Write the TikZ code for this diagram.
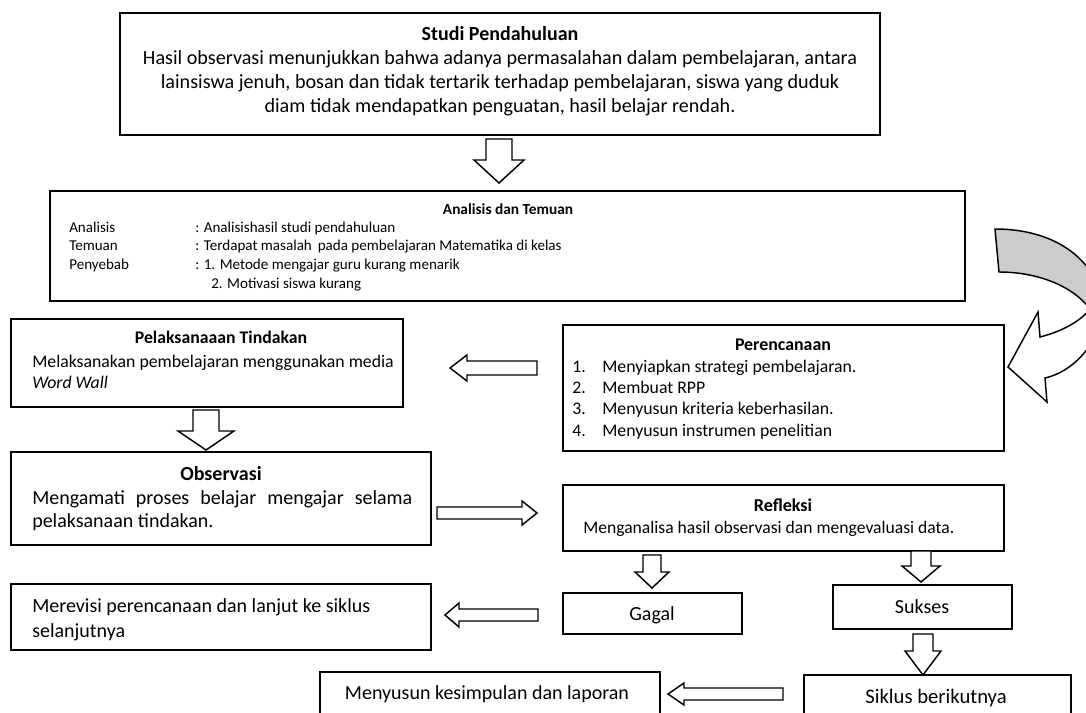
\documentclass[tikz,border=0pt]{standalone}
\usepackage{fontspec}
\setmainfont{Carlito}
\usetikzlibrary{fit}
\newcommand\blkdown[6]{% cx, ytop, yhead, ytip, shaft half, head half
  \draw[blk] ({#1-#5},#2) -- ({#1+#5},#2) -- ({#1+#5},#3) -- ({#1+#6},#3) -- (#1,#4) -- ({#1-#6},#3) -- ({#1-#5},#3) -- cycle;}
\newcommand\blkhoriz[6]{% xtail, xhead, xtip, cy, shaft half, head half
  \draw[blk] (#1,{#4-#5}) -- (#2,{#4-#5}) -- (#2,{#4-#6}) -- (#3,#4) -- (#2,{#4+#6}) -- (#2,{#4+#5}) -- (#1,{#4+#5}) -- cycle;}
\newcommand\curvedarrowpath{(995,229) .. controls (1045,229) and (1085,250) .. (1100,290)
  .. controls (1110,330) and (1080,370) .. (1045,378)
  -- (1047,402) -- (1008,367) -- (1038,312) -- (1040,337)
  .. controls (1060,332) and (1080,322) .. (1090,309)
  .. controls (1072,285) and (1036,272) .. (999,272) -- cycle}
\begin{document}
\begin{tikzpicture}[x=0.75pt,y=-0.75pt,
  box/.style={draw, line width=1.45pt, inner sep=0pt},
  blk/.style={draw, line width=1.1pt, fill=white, line join=miter},
  txt/.style={inner sep=0pt, anchor=base west},
  ctr/.style={inner sep=0pt, anchor=base}]
\clip (0,0) rectangle (1086,713);
\fill[white] (0,0) rectangle (1086,713);

% ---------- Studi Pendahuluan
\node[box, fit={(120,13) (880,135)}] (studi) {};
\node[ctr, font=\fontsize{15}{18}\selectfont\bfseries] (studiT) at (500,41) {Studi Pendahuluan};
\node[ctr, font=\fontsize{15.1}{18}\selectfont] (studi1) at (500,65) {Hasil observasi menunjukkan bahwa adanya permasalahan dalam pembelajaran, antara};
\node[ctr, font=\fontsize{15.1}{18}\selectfont] (studi2) at (500,89) {lainsiswa jenuh, bosan dan tidak tertarik terhadap pembelajaran, siswa yang duduk};
\node[ctr, font=\fontsize{15.1}{18}\selectfont] (studi3) at (500,113) {diam tidak mendapatkan penguatan, hasil belajar rendah.};

\blkdown{499}{139}{160}{183}{13}{25}

% ---------- Analisis dan Temuan
\node[box, fit={(50,191) (965,301)}] (anal) {};
\node[ctr, font=\fontsize{11.5}{13}\selectfont\bfseries] (analT) at (508,215) {Analisis dan Temuan};
\begin{scope}[font=\fontsize{11.3}{13}\selectfont]
\node[txt] (a1) at (69,233) {Analisis};
\node[txt] (a2) at (69,251) {Temuan};
\node[txt] (a3) at (69,270) {Penyebab};
\node[txt] (b1) at (195,233) {: Analisishasil studi pendahuluan};
\node[txt] (b2) at (195,251) {: Terdapat masalah\, pada pembelajaran Matematika di kelas};
\node[txt] (b3) at (195,270) {: 1. Metode mengajar guru kurang menarik};
\node[txt] (b4) at (211,288) {2. Motivasi siswa kurang};
\end{scope}

% ---------- curved arrow
\begin{scope}
\clip (980,200) rectangle (1095,309);
\fill[black!20] \curvedarrowpath;
\end{scope}
\draw[line width=1.1pt, line join=miter] \curvedarrowpath;

% ---------- Pelaksanaaan Tindakan
\node[box, fit={(11,319) (403,407)}] (pel) {};
\node[ctr, font=\fontsize{13.3}{15}\selectfont\bfseries] (pelT) at (221,344) {Pelaksanaaan Tindakan};
\node[txt, font=\fontsize{13.3}{15}\selectfont] (pel1) at (32,367) {Melaksanakan pembelajaran menggunakan media};
\node[txt, font=\fontsize{13.3}{15}\selectfont\itshape] (pel2) at (32,388) {Word Wall};

% ---------- Perencanaan
\node[box, fit={(563,325) (1004,451)}] (ren) {};
\node[ctr, font=\fontsize{13.4}{15}\selectfont\bfseries] (renT) at (783,350) {Perencanaan};
\begin{scope}[font=\fontsize{13.3}{15}\selectfont]
\node[txt] (r1n) at (572,372) {1.};
\node[txt] (r2n) at (572,393) {2.};
\node[txt] (r3n) at (572,414) {3.};
\node[txt] (r4n) at (572,436) {4.};
\node[txt] (r1) at (602,372) {Menyiapkan strategi pembelajaran.};
\node[txt] (r2) at (602,393) {Membuat RPP};
\node[txt] (r3) at (602,414) {Menyusun kriteria keberhasilan.};
\node[txt] (r4) at (602,436) {Menyusun instrumen penelitian};
\end{scope}

\blkhoriz{537}{467}{450}{368}{7}{13}
\blkdown{206}{410}{431}{450}{13}{28}

% ---------- Observasi
\node[box, fit={(11,452) (431,545)}] (obs) {};
\node[ctr, font=\fontsize{15}{17}\selectfont\bfseries] (obsT) at (221,480) {Observasi};
\node[txt, font=\fontsize{15}{17}\selectfont] (obs1) at (32,504) {\makebox[285pt][s]{Mengamati proses belajar mengajar selama}};
\node[txt, font=\fontsize{15}{17}\selectfont] (obs2) at (32,527) {pelaksanaan tindakan.};

\blkhoriz{437}{522}{537}{513}{6}{12}

% ---------- Refleksi
\node[box, fit={(563,485) (1004,551)}] (ref) {};
\node[ctr, font=\fontsize{13.6}{15}\selectfont\bfseries] (refT) at (783,511) {Refleksi};
\node[txt, font=\fontsize{13.2}{15}\selectfont] (ref1) at (583,533) {Menganalisa hasil observasi dan mengevaluasi data.};

\blkdown{652}{555}{572}{588}{9}{17}
\blkdown{921}{551}{566}{582}{10}{19}

% ---------- Gagal / Sukses
\node[box, fit={(563,593) (742,634)}] (gagal) {};
\node[ctr, font=\fontsize{15}{16}\selectfont] (gagalT) at (652,620) {Gagal};
\node[box, fit={(833,585) (1012,629)}] (sukses) {};
\node[ctr, font=\fontsize{15}{16}\selectfont] (suksesT) at (922,613) {Sukses};

% ---------- Merevisi
\node[box, fit={(11,584) (431,650)}] (rev) {};
\node[txt, font=\fontsize{15}{16}\selectfont] (rev1) at (32,612) {Merevisi perencanaan dan lanjut ke siklus};
\node[txt, font=\fontsize{15}{16}\selectfont] (rev2) at (32,637) {selanjutnya};

\blkhoriz{538}{459}{445}{615}{6}{12}

\blkdown{923}{634}{651}{675}{10}{18}

% ---------- bottom
\node[box, fit={(804,675) (1071,740)}] (sik) {};
\node[ctr, font=\fontsize{15.5}{16}\selectfont] (sikT) at (936,703) {Siklus berikutnya};
\node[box, fit={(320,672) (660,740)}] (kes) {};
\node[ctr, font=\fontsize{15}{16}\selectfont] (kesT) at (487,699) {Menyusun kesimpulan dan laporan};

\blkhoriz{783}{684}{668}{694}{6}{11}
\end{tikzpicture}
\end{document}
